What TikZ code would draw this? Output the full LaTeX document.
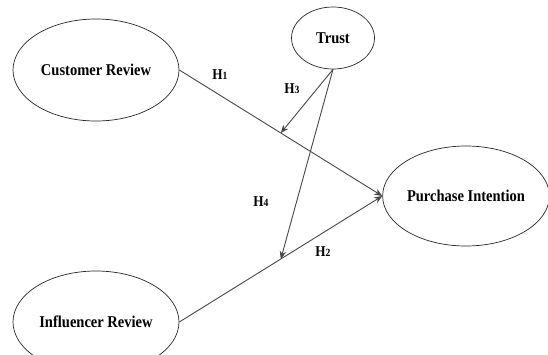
\documentclass[tikz,border=0pt]{standalone}
\usepackage{fontspec}
\setmainfont{Liberation Serif}[FakeStretch=0.88]
\usetikzlibrary{shapes.geometric,arrows.meta,calc}
\begin{document}
\begin{tikzpicture}[x=1pt,y=-1pt,
  var/.style={draw=black!85,line width=0.7pt,ellipse,inner sep=0pt,font=\fontsize{16.5}{18}\selectfont\bfseries},
  path/.style={draw=black!72,line width=0.9pt,-{Stealth[length=8pt,width=6.5pt]}},
  hlab/.style={font=\fontsize{15}{16}\selectfont\bfseries,inner sep=0pt}]
\useasboundingbox (0,0) rectangle (548,354);
\node[var,minimum width=166pt,minimum height=102pt] (cr) at (96,70) {Customer Review};
\node[var,minimum width=83pt,minimum height=62pt] (tr) at (333,38) {Trust};
\node[var,minimum width=162pt,minimum height=100pt] (pi) at (466,196) {Purchase Intention};
\node[var,minimum width=166pt,minimum height=102pt] (ir) at (96,322) {Influencer Review};
\coordinate (m1) at ($(cr.east)!0.5!(pi.west)$);
\coordinate (m2) at ($(ir.east)!0.5!(pi.west)$);
\draw[path] (cr.east) -- (pi.west);
\draw[path] (ir.east) -- (pi.west);
\draw[path] (tr.south) -- (m1);
\draw[path] (tr.south) -- (m2);
\node[hlab] (h1) at (220,75) {H{\fontsize{11}{11}\selectfont 1}};
\node[hlab] (h3) at (292,89) {H{\fontsize{11}{11}\selectfont 3}};
\node[hlab] (h4) at (261,202) {H{\fontsize{11}{11}\selectfont 4}};
\node[hlab] (h2) at (323,252) {H{\fontsize{11}{11}\selectfont 2}};
\end{tikzpicture}
\end{document}
